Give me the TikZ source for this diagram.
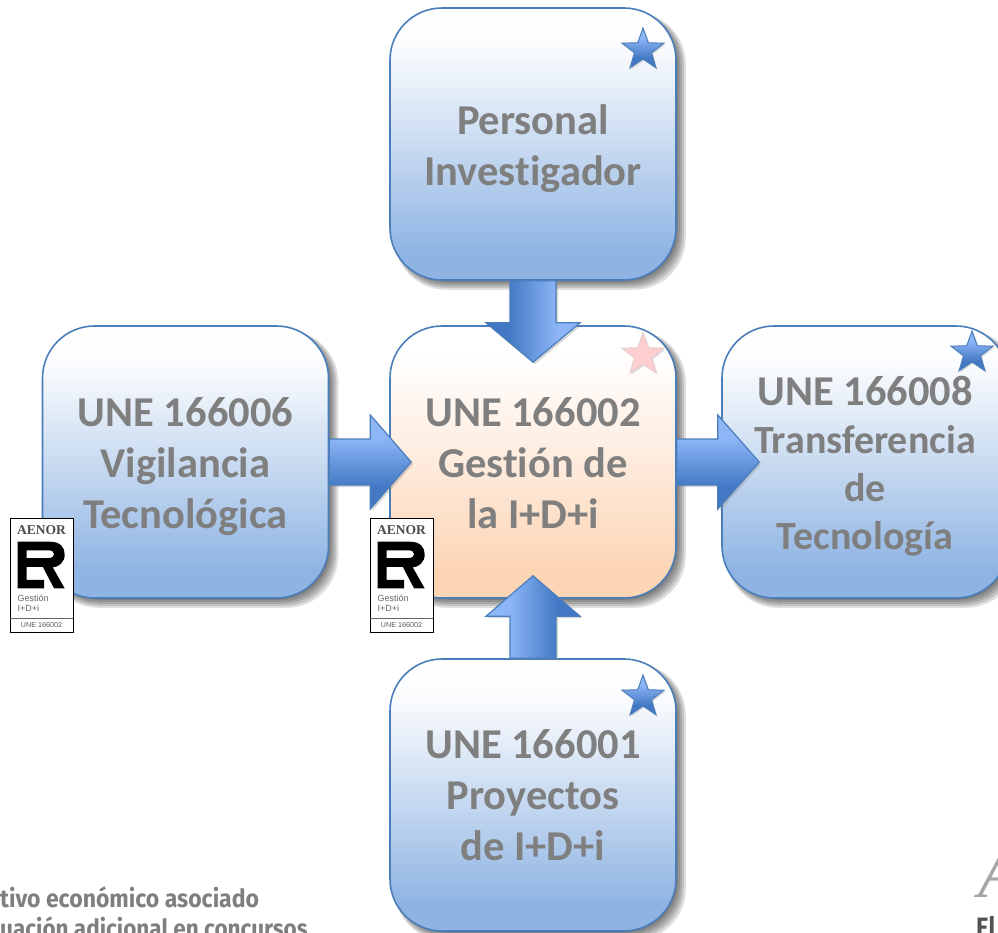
\documentclass[tikz,border=0pt]{standalone}
\usepackage{fontspec}
\setmainfont[Ligatures=NoCommon]{Carlito}
\newfontfamily\logoserif{Liberation Serif}
\newfontfamily\logosans{Liberation Sans}
\newfontfamily\firaf{Fira Sans}
\usetikzlibrary{calc,shapes.geometric,shadows,backgrounds}
\definecolor{edgeblue}{HTML}{4A7EBB}
\definecolor{arrowdark}{HTML}{4379C4}
\definecolor{lightarrow}{HTML}{8DB6F7}
\definecolor{boxblue}{HTML}{8FB4E3}
\definecolor{boxmid}{HTML}{C9DBF1}
\definecolor{boxtop}{HTML}{FBFCFE}
\definecolor{boxorange}{HTML}{FCD5B5}
\definecolor{boxomid}{HTML}{FEEBDD}
\definecolor{labelgrey}{HTML}{7F7F7F}
\pgfdeclareverticalshading{bluebox}{100bp}{color(0bp)=(boxblue); color(25bp)=(boxblue); color(30bp)=(boxblue); color(50bp)=(boxmid); color(68bp)=(boxtop); color(75bp)=(white); color(100bp)=(white)}
\pgfdeclareverticalshading{orangebox}{100bp}{color(0bp)=(boxorange); color(25bp)=(boxorange); color(30bp)=(boxorange); color(50bp)=(boxomid); color(70bp)=(white); color(100bp)=(white)}
\pgfdeclareverticalshading{arrowramp}{100bp}{color(0bp)=(arrowdark); color(37bp)=(arrowdark); color(63bp)=(lightarrow); color(100bp)=(lightarrow)}
\tikzset{
  card/.style={rectangle,rounded corners=52pt,draw=edgeblue,line width=1.6pt,minimum width=286pt,minimum height=272pt,inner sep=0pt,align=center,text=labelgrey,font=\fontsize{42.5}{51}\selectfont\bfseries},
  bluecard/.style={card,shading=bluebox,shading angle=0},
  orangecard/.style={card,shading=orangebox,shading angle=0},
  blockarrow/.style={draw=edgeblue,line width=1.2pt,line join=miter,shading=arrowramp,drop shadow={shadow xshift=2pt,shadow yshift=-2pt,opacity=.3}},
  prize/.style={star,star points=5,star point ratio=2.45,minimum size=44pt,inner sep=0pt,line width=1pt,drop shadow={shadow xshift=1.5pt,shadow yshift=-1.5pt,opacity=.25}},
  bluestar/.style={prize,draw=edgeblue,shading=arrowramp,shading angle=0},
  pinkstar/.style={prize,draw=pink!70!gray!60,fill=pink!70!red!40},
  aenor/.pic={
    \draw[black,fill=white,line width=.8pt] (0,0) rectangle (63,114);
    \node[font=\logoserif\bfseries\fontsize{13.5}{13.5}\selectfont,text=black!70,inner sep=0pt] at (31.5,12) {AENOR};
    \begin{scope}[shift={(7.7,23.7)},x=.331pt,y=-.389pt]
      \fill[black,even odd rule] (0,0) -- (97,0) .. controls (130,0) and (142,15) .. (142,33) .. controls (142,52) and (125,65) .. (106,66) -- (142,120) -- (110,120) -- (76,65) -- (27,65) -- (27,98) -- (80,98) -- (80,120) -- (0,120) -- cycle
      (27,22) -- (92,22) .. controls (104,22) and (110,26) .. (110,32) .. controls (110,38) and (104,42) .. (92,42) -- (27,42) -- cycle;
    \end{scope}
    \node[anchor=west,font=\logosans\fontsize{9}{9}\selectfont,text=black!60,inner sep=0pt] at (7.5,80) {Gestión};
    \node[anchor=west,font=\logosans\fontsize{9}{9}\selectfont,text=black!60,inner sep=0pt] at (7.5,90) {I+D+i};
    \draw[black!60,line width=.7pt] (0,100) -- (63,100);
    \node[font=\logosans\fontsize{7.2}{7.2}\selectfont,text=black!65,inner sep=0pt] at (31.5,107) {UNE 166002};
  }
}
\newcommand{\boxshadow}[1]{%
  \foreach \e in {1,3,5,7,9}{%
    \fill[black,opacity=.13,rounded corners=52pt] ($(#1.north west)+(5,5)$) rectangle ($(#1.south east)+(\e,\e)$);
  }%
}
\newcommand{\lift}[1]{\rule{0pt}{#1pt}}
\newcommand{\smallline}{\fontsize{40}{48}\selectfont}
\begin{document}
\begin{tikzpicture}[x=1pt,y=-1pt]
\useasboundingbox (0,0) rectangle (998,932);
\clip (0,0) rectangle (998,932);

\node[anchor=base west,inner sep=0pt,text=labelgrey,xscale=.92,font=\firaf\fontsize{25}{25}\selectfont\bfseries] (note1) at (0,907) {tivo económico asociado};
\node[anchor=base west,inner sep=0pt,text=labelgrey,xscale=.9,font=\firaf\fontsize{25}{25}\selectfont\bfseries] (note2) at (0,937) {uación adicional en concursos};
\node[anchor=base west,inner sep=0pt,text=black!35,font=\logoserif\itshape\fontsize{72}{72}\selectfont] (brandA) at (978,897) {A};
\node[anchor=base west,inner sep=0pt,text=black!68,xscale=.85,font=\firaf\fontsize{28}{28}\selectfont\bfseries] (brandE) at (976,937) {El};

\node[bluecard] (personal) at (533,144) {\lift{40}Personal\\Investigador};
\node[bluecard] (vigilancia) at (185.5,462) {\lift{39}UNE 166006\\Vigilancia\\Tecnológica};
\node[orangecard] (gestion) at (533,462) {\lift{31}UNE 166002\\Gestión de\\la I+D+i};
\node[bluecard,font=\fontsize{42.5}{48}\selectfont\bfseries] (transfer) at (865,462) {\lift{38}UNE 166008\\{\smallline Transferencia}\\{\smallline de}\\{\smallline Tecnología}};
\node[bluecard] (proyectos) at (533,795) {\lift{29}UNE 166001\\Proyectos\\de I+D+i};

\begin{pgfonlayer}{background}
  \fill[white] (0,0) rectangle (998,932);
  \boxshadow{personal}
  \boxshadow{vigilancia}
  \boxshadow{gestion}
  \boxshadow{transfer}
  \boxshadow{proyectos}
\end{pgfonlayer}

% block arrows
\draw[blockarrow,shading angle=-90]
  ($(personal.south)+(-23,0)$) -- ($(personal.south)+(23,0)$) -- ($(personal.south)+(23,42)$) -- ($(personal.south)+(47,42)$)
  -- ($(gestion.north)+(0,37)$) -- ($(personal.south)+(-47,42)$) -- ($(personal.south)+(-23,42)$) -- cycle;
\draw[blockarrow,shading angle=0]
  ($(vigilancia.east)+(0,-23)$) -- ($(vigilancia.east)+(41,-23)$) -- ($(vigilancia.east)+(41,-47)$)
  -- ($(gestion.west)+(22,0)$) -- ($(vigilancia.east)+(41,47)$) -- ($(vigilancia.east)+(41,23)$) -- ($(vigilancia.east)+(0,23)$) -- cycle;
\draw[blockarrow,shading angle=0]
  ($(gestion.east)+(0,-23)$) -- ($(gestion.east)+(41,-23)$) -- ($(gestion.east)+(41,-47)$)
  -- ($(transfer.west)+(38,0)$) -- ($(gestion.east)+(41,47)$) -- ($(gestion.east)+(41,23)$) -- ($(gestion.east)+(0,23)$) -- cycle;
\draw[blockarrow,shading angle=90]
  ($(proyectos.north)+(-23,0)$) -- ($(proyectos.north)+(23,0)$) -- ($(proyectos.north)+(23,-42)$) -- ($(proyectos.north)+(47,-42)$)
  -- ($(gestion.south)+(0,-23)$) -- ($(proyectos.north)+(-47,-42)$) -- ($(proyectos.north)+(-23,-42)$) -- cycle;

\node[bluestar] (star1) at (643,50) {};
\node[pinkstar] (star2) at (643,355) {};
\node[bluestar] (star3) at (972,353) {};
\node[bluestar] (star4) at (643,697) {};

\pic at (10,518) {aenor};
\pic at (370,518) {aenor};
\end{tikzpicture}
\end{document}
